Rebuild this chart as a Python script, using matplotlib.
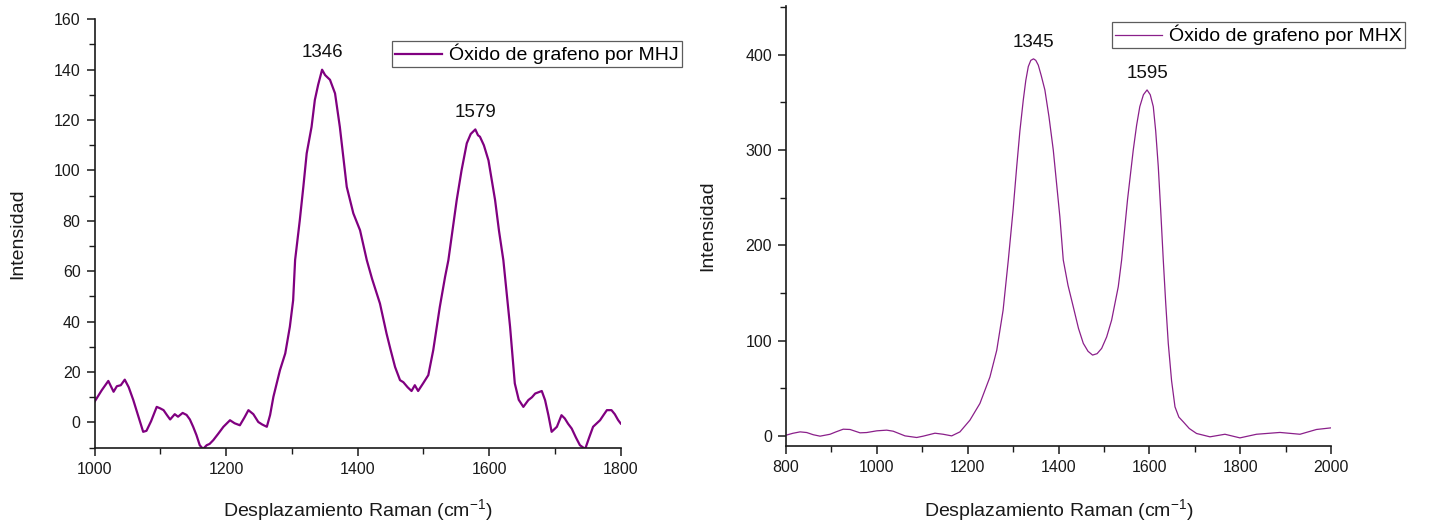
import matplotlib
matplotlib.use("Agg")
import matplotlib.pyplot as plt
from matplotlib.ticker import MultipleLocator

plt.rcParams['font.family'] = ['Liberation Sans', 'DejaVu Sans']
plt.rcParams['mathtext.default'] = 'regular'

# Raman spectrum, graphene oxide by modified Hummers method (MHJ)
mhj_shift = [1000, 1011, 1021, 1029, 1034, 1040, 1046, 1052, 1059, 1066, 1074, 1079, 1086,
             1094.6, 1100, 1105, 1110, 1115, 1122, 1127, 1134, 1140, 1145, 1150, 1155, 1160,
             1165, 1170.6, 1175, 1180.6, 1188, 1196, 1206, 1213, 1221, 1228, 1234, 1241.5,
             1249, 1255, 1262, 1267, 1272, 1282, 1290, 1297, 1302, 1305, 1312, 1317.5, 1322.6,
             1330, 1335, 1340, 1346, 1350.5, 1354, 1358, 1365.7, 1373, 1383.5, 1393.5, 1403.7,
             1414, 1422, 1434, 1444, 1450, 1457, 1464.5, 1469.5, 1476, 1482, 1487, 1492, 1500,
             1507.5, 1515, 1525, 1533, 1538, 1550.7, 1558, 1566, 1572, 1579, 1583, 1586, 1592,
             1599, 1609, 1615, 1621.6, 1631.8, 1639, 1645, 1652, 1659.6, 1665, 1670, 1680, 1685,
             1690, 1695, 1703, 1710, 1715, 1720, 1725.5, 1732, 1738, 1746, 1752, 1758, 1768.6,
             1774, 1779, 1786, 1791, 1796, 1800]
mhj_intensity = [8.2, 12.8, 16.5, 12.2, 14.4, 14.8, 17.0, 14.0, 8.9, 3.0, -3.7, -3.3, 0.5,
                 6.2, 5.6, 4.9, 3.0, 1.2, 3.3, 2.3, 3.8, 3.0, 1.2, -1.7, -5.0, -9.0,
                 -10.5, -9.0, -8.5, -7.0, -4.5, -1.7, 0.9, -0.3, -1.1, 2.0, 4.9, 3.3,
                 0.2, -0.8, -1.7, 3.0, 10.2, 20.8, 27.4, 38.0, 48.5, 64.5, 80.0, 93.5, 106.8,
                 117.3, 128.0, 134.0, 140.0, 137.9, 137.0, 136.0, 130.6, 117.3, 93.5, 83.0, 76.3,
                 64.4, 57.0, 47.2, 35.3, 29.0, 22.0, 16.8, 16.0, 14.0, 12.5, 14.8, 12.5, 15.7,
                 18.8, 28.7, 45.9, 57.8, 64.4, 88.3, 100.0, 110.8, 114.5, 116.3, 114.0, 113.4, 110.0,
                 104.0, 88.3, 76.0, 64.4, 38.0, 15.5, 9.0, 6.2, 8.9, 10.0, 11.5, 12.5, 8.9,
                 3.0, -3.7, -1.7, 2.9, 1.6, -0.5, -2.4, -6.0, -9.0, -10.5, -6.0, -1.7, 0.9,
                 3.0, 4.9, 4.9, 3.3, 1.0, -0.4]

# Raman spectrum, graphene oxide by modified Hummers method (MHX)
mhx_shift = [800, 815, 831, 845.6, 860, 875, 897, 910, 926, 941, 963, 977.7, 1000, 1021.7,
             1036, 1062, 1087.7, 1102, 1128, 1146, 1164.8, 1183, 1205, 1227, 1249, 1264,
             1278, 1289.5, 1300, 1308, 1315, 1322.5, 1328, 1333.5, 1339, 1345, 1350, 1355.5,
             1362, 1370, 1379, 1388.5, 1403, 1410.5, 1421, 1432.5, 1444, 1454.6, 1465, 1475,
             1485, 1495, 1506, 1517, 1531.6, 1539, 1552, 1564.6, 1572, 1579, 1587, 1595, 1602,
             1608.7, 1614, 1619.7, 1625, 1630.7, 1636, 1641.7, 1649, 1656.5, 1665, 1674.8, 1688,
             1704, 1733.5, 1766.5, 1799.5, 1836, 1887.6, 1931.7, 1968, 2000]
mhx_intensity = [1.0, 3.0, 4.5, 3.8, 1.5, 0.0, 2.0, 4.5, 7.3, 7.0, 3.5, 3.8, 5.6, 6.3,
                 5.2, 0.3, -1.4, 0.0, 3.1, 2.0, 0.3, 4.5, 16.8, 34.3, 62.0, 90.0,
                 132.0, 184.7, 237.0, 282.6, 320.0, 352.6, 373.0, 387.5, 394.0, 395.6, 394.0, 389.0,
                 378.0, 363.0, 335.0, 300.0, 230.0, 184.7, 158.0, 135.7, 113.0, 97.3, 89.0, 85.0,
                 86.5, 92.0, 104.0, 121.7, 156.7, 184.7, 248.0, 300.0, 326.0, 345.5, 358.0, 363.0, 358.0,
                 345.5, 320.0, 282.6, 237.0, 184.7, 140.0, 97.3, 58.0, 30.7, 20.0, 15.0, 8.0,
                 2.8, -0.7, 2.0, -1.8, 2.0, 3.9, 2.0, 7.0, 8.7]

peaks_mhj = [(1346, 140.0), (1579, 116.3)]
peaks_mhx = [(1345, 395.6), (1595, 363.0)]

W, H = 1432, 522
fig = plt.figure(figsize=(W / 100, H / 100), dpi=100)

ax1 = fig.add_axes([94.5 / W, 1 - 447.7 / H, 526.2 / W, 428.4 / H])
ax2 = fig.add_axes([786 / W, 1 - 445.7 / H, 545 / W, 439.7 / H])

ax1.plot(mhj_shift, mhj_intensity, color='#800080', lw=1.6, label='Óxido de grafeno por MHJ')
ax2.plot(mhx_shift, mhx_intensity, color='#8a1f8a', lw=0.9, label='Óxido de grafeno por MHX')

ax1.set_xlim(1000, 1800)
ax1.set_ylim(-10, 160)
ax1.xaxis.set_major_locator(MultipleLocator(200))
ax1.xaxis.set_minor_locator(MultipleLocator(100))
ax1.yaxis.set_major_locator(MultipleLocator(20))
ax1.yaxis.set_minor_locator(MultipleLocator(10))

ax2.set_xlim(800, 2000)
ax2.set_ylim(-10, 451)
ax2.xaxis.set_major_locator(MultipleLocator(200))
ax2.xaxis.set_minor_locator(MultipleLocator(100))
ax2.yaxis.set_major_locator(MultipleLocator(100))
ax2.yaxis.set_minor_locator(MultipleLocator(50))

label_pos = {ax1: (-0.115, -0.130), ax2: (-0.117, -0.128)}
for ax in (ax1, ax2):
    ax.spines['top'].set_visible(False)
    ax.spines['right'].set_visible(False)
    for s in ('left', 'bottom'):
        ax.spines[s].set_linewidth(1.2)
        ax.spines[s].set_color('#1a1a1a')
    ax.tick_params(which='major', direction='out', length=6, width=1.1,
                   labelsize=11.5, colors='#1a1a1a', pad=4)
    ax.tick_params(which='minor', direction='out', length=4, width=1.0, colors='#1a1a1a')
    ax.set_xlabel('Desplazamiento Raman (cm$^{-1}$)', fontsize=14, color='#1a1a1a')
    ax.set_ylabel('Intensidad', fontsize=14, color='#1a1a1a')
    xl_y, yl_x = label_pos[ax]
    ax.xaxis.set_label_coords(0.5, xl_y)
    ax.yaxis.set_label_coords(yl_x, 0.5)

for x, y in peaks_mhj:
    ax1.annotate(str(x), (x, y), xytext=(0, 6), textcoords='offset points',
                 ha='center', va='bottom', fontsize=13.5, color='#111111')
for x, y in peaks_mhx:
    ax2.annotate(str(x), (x, y), xytext=(0, 6), textcoords='offset points',
                 ha='center', va='bottom', fontsize=13.5, color='#111111')

leg_kw = dict(loc='upper left', fontsize=14, frameon=True, fancybox=False,
              borderpad=0.15, handlelength=2.4, handletextpad=0.4, borderaxespad=0,
              bbox_transform=fig.transFigure)
l1 = ax1.legend(bbox_to_anchor=(392 / W, 1 - 41 / H), **leg_kw)
l2 = ax2.legend(bbox_to_anchor=(1112 / W, 1 - 22 / H), **leg_kw)
for lg in (l1, l2):
    lg.get_frame().set_edgecolor('#333333')
    lg.get_frame().set_linewidth(0.9)

fig.savefig('out.png', dpi=100)
